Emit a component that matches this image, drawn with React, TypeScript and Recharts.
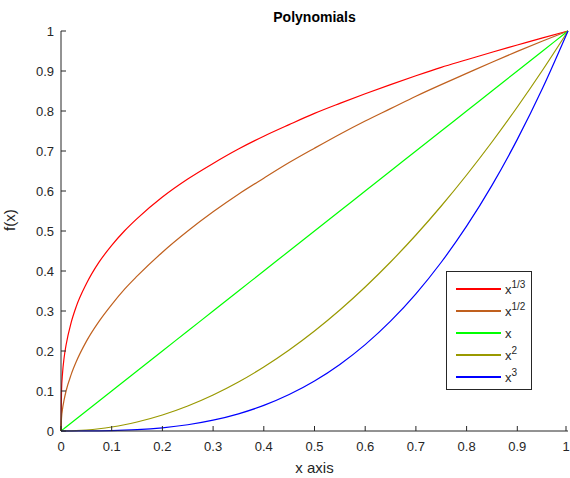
import React from 'react'
import { LineChart, Line, XAxis, YAxis } from 'recharts'

const xValues = [0, 0.001, 0.003, 0.006, 0.01, 0.02, 0.03, 0.05, 0.075, 0.1, 0.125, 0.15, 0.2, 0.25, 0.3, 0.35, 0.4, 0.45, 0.5, 0.55, 0.6, 0.65, 0.7, 0.75, 0.8, 0.85, 0.9, 0.95, 1]
const cubeRoot = [0, 0.1, 0.144, 0.182, 0.215, 0.271, 0.311, 0.368, 0.422, 0.464, 0.5, 0.531, 0.585, 0.63, 0.669, 0.705, 0.737, 0.766, 0.794, 0.819, 0.843, 0.866, 0.888, 0.909, 0.928, 0.947, 0.965, 0.983, 1]
const sqrtVals = [0, 0.032, 0.055, 0.077, 0.1, 0.141, 0.173, 0.224, 0.274, 0.316, 0.354, 0.387, 0.447, 0.5, 0.548, 0.592, 0.632, 0.671, 0.707, 0.742, 0.775, 0.806, 0.837, 0.866, 0.894, 0.922, 0.949, 0.975, 1]
const linearVals = [0, 0.001, 0.003, 0.006, 0.01, 0.02, 0.03, 0.05, 0.075, 0.1, 0.125, 0.15, 0.2, 0.25, 0.3, 0.35, 0.4, 0.45, 0.5, 0.55, 0.6, 0.65, 0.7, 0.75, 0.8, 0.85, 0.9, 0.95, 1]
const squareVals = [0, 0, 0, 0, 0.0001, 0.0004, 0.0009, 0.0025, 0.0056, 0.01, 0.0156, 0.0225, 0.04, 0.0625, 0.09, 0.1225, 0.16, 0.2025, 0.25, 0.3025, 0.36, 0.4225, 0.49, 0.5625, 0.64, 0.7225, 0.81, 0.9025, 1]
const cubeVals = [0, 0, 0, 0, 0, 0, 0, 0.0001, 0.0004, 0.001, 0.002, 0.0034, 0.008, 0.0156, 0.027, 0.0429, 0.064, 0.0911, 0.125, 0.1664, 0.216, 0.2746, 0.343, 0.4219, 0.512, 0.6141, 0.729, 0.8574, 1]

const ticks = [0, 0.1, 0.2, 0.3, 0.4, 0.5, 0.6, 0.7, 0.8, 0.9, 1]

const series = [
  { key: 'cbrt', color: '#ff0000', base: 'x', sup: '1/3' },
  { key: 'sqrt', color: '#c0601e', base: 'x', sup: '1/2' },
  { key: 'lin', color: '#00ff00', base: 'x', sup: '' },
  { key: 'sq', color: '#999900', base: 'x', sup: '2' },
  { key: 'cube', color: '#0000ff', base: 'x', sup: '3' },
]

const data = xValues.map((x, i) => ({
  x,
  cbrt: cubeRoot[i],
  sqrt: sqrtVals[i],
  lin: linearVals[i],
  sq: squareVals[i],
  cube: cubeVals[i],
}))

const FONT = '"Liberation Sans", Arial, sans-serif'
const AXIS = '#262626'

const fmt = (v: number) => (v === 0 || v === 1 ? String(v) : v.toFixed(1))

function XTick(props: any) {
  const { x, y, payload } = props
  return (
    <g>
      <line x1={x} x2={x} y1={y} y2={y - 5} stroke={AXIS} />
      <text x={x} y={y + 20} textAnchor="middle" fill={AXIS} fontSize={13} fontFamily={FONT}>
        {fmt(payload.value)}
      </text>
    </g>
  )
}

function YTick(props: any) {
  const { x, y, payload } = props
  return (
    <g>
      <line x1={x} x2={x + 5} y1={y} y2={y} stroke={AXIS} />
      <text x={x - 7} y={y + 5} textAnchor="end" fill={AXIS} fontSize={13} fontFamily={FONT}>
        {fmt(payload.value)}
      </text>
    </g>
  )
}

function LegendBox() {
  return (
    <div style={{ position: 'absolute', left: 446, top: 271, width: 84, height: 114, border: '1px solid #262626', background: '#fff', paddingTop: 3, fontFamily: FONT, fontSize: 13, color: AXIS }}>
      {series.map((s) => (
        <div key={s.key} style={{ display: 'flex', alignItems: 'flex-end', height: 22 }}>
          <div style={{ width: 45, height: 2, backgroundColor: s.color, marginLeft: 9, marginRight: 4, marginBottom: 7 }} />
          <span style={{ lineHeight: '14px' }}>
            {s.base}
            {s.sup && <sup style={{ fontSize: 10, verticalAlign: 6, lineHeight: 0 }}>{s.sup}</sup>}
          </span>
        </div>
      ))}
    </div>
  )
}

export default function App() {
  return (
    <div style={{ position: 'absolute', left: 0, top: 0, width: 570, height: 478, background: '#fff' }}>
      <LineChart width={570} height={478} data={data} margin={{ top: 31, right: 2, bottom: 0, left: 0 }}>
        <text x={314.5} y={22} textAnchor="middle" fontFamily={FONT} fontSize={14} fontWeight="bold" fill="#000">
          Polynomials
        </text>
        <XAxis
          dataKey="x"
          type="number"
          domain={[0, 1]}
          ticks={ticks}
          tickSize={0}
          tickMargin={0}
          tickLine={false}
          tick={<XTick />}
          stroke={AXIS}
          height={47}
          label={{ value: 'x axis', position: 'insideBottom', offset: 5, fill: AXIS, fontSize: 15, fontFamily: FONT }}
        />
        <YAxis
          type="number"
          domain={[0, 1]}
          ticks={ticks}
          tickSize={0}
          tickMargin={0}
          tickLine={false}
          tick={<YTick />}
          stroke={AXIS}
          width={61}
          label={{ value: 'f(x)', angle: -90, position: 'insideLeft', offset: 10, fill: AXIS, fontSize: 15, fontFamily: FONT }}
        />
        {series.map((s) => (
          <Line key={s.key} dataKey={s.key} type="monotone" stroke={s.color} strokeWidth={1.2} dot={false} isAnimationActive={false} />
        ))}
      </LineChart>
      <LegendBox />
    </div>
  )
}
